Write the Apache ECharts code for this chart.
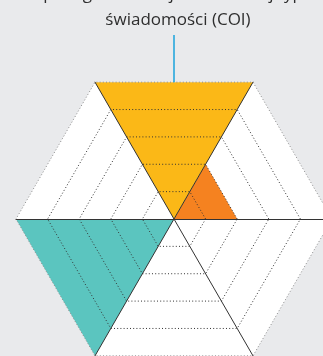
<!DOCTYPE html>
<html>
<head>
<meta charset="utf-8">
<script src="https://cdn.jsdelivr.net/npm/echarts@6/dist/echarts.min.js"></script>
<style>
  html, body { margin: 0; padding: 0; background: #e9eaec; }
  #chart { width: 323px; height: 356px; }
</style>
</head>
<body>
<div id="chart"></div>
<script>
// sektory sześciokąta, od prawego (0°–60°) przeciwnie do ruchu wskazówek zegara
const sectorNames = ['S1', 'COI', 'S3', 'S4', 'S5', 'S6'];
const sectorValues = [2, 5, 0, 5, 0, 0];
const sectorColors = ['#f58220', '#fbb817', null, '#5bc5bf', null, null];
const maxLevel = 5;

const titleLines = ['Zespół ograniczonej i zmienionej typowej', 'świadomości (COI)'];

const center = [174, 219];
const radius = 158;

// każdy sektor to trójkąt: wartość na dwóch sąsiednich wierzchołkach, reszta w środku
const seriesData = [];
sectorValues.forEach((v, k) => {
  if (!v) return;
  const vals = sectorNames.map(() => 0);
  vals[k] = v;
  vals[(k + 1) % sectorNames.length] = v;
  seriesData.push({
    name: sectorNames[k],
    value: vals,
    areaStyle: { color: sectorColors[k], opacity: 1 },
    lineStyle: { width: 0, opacity: 0 }
  });
});

const indicator = sectorNames.map(() => ({ name: '', max: maxLevel, min: 0 }));

const baseRadar = {
  indicator, center, radius, startAngle: 0, shape: 'polygon', splitNumber: maxLevel,
  axisName: { show: false }
};

const chart = echarts.init(document.getElementById('chart'), null, { renderer: 'canvas' });
chart.setOption({
  backgroundColor: '#e9eaec',
  animation: false,
  title: {
    text: titleLines.join('\n'),
    left: 173,
    textAlign: 'center',
    top: -24,
    textStyle: { fontFamily: 'Open Sans', fontSize: 17, fontWeight: 'normal', color: '#2e2e2e', lineHeight: 26 }
  },
  radar: [
    Object.assign({}, baseRadar, {
      z: 0,
      splitArea: { show: true, areaStyle: { color: ['#ffffff'] } },
      splitLine: { show: false },
      axisLine: { show: false }
    }),
    Object.assign({}, baseRadar, {
      z: 5,
      splitArea: { show: false },
      splitLine: {
        show: true,
        lineStyle: { type: [1, 2.2], width: 1, color: ['#333', '#333', '#333', '#333', '#333', '#8c8c8c'] }
      },
      axisLine: { show: true, lineStyle: { color: '#333', width: 1 } }
    })
  ],
  series: [{
    type: 'radar',
    radarIndex: 0,
    symbol: 'none',
    data: seriesData
  }],
  graphic: [{
    type: 'line',
    shape: { x1: center[0], y1: 35, x2: center[0], y2: center[1] - radius * Math.sin(Math.PI / 3) },
    style: { stroke: '#1aa3dc', lineWidth: 1.5 },
    z: 6
  }]
});
</script>
</body>
</html>
